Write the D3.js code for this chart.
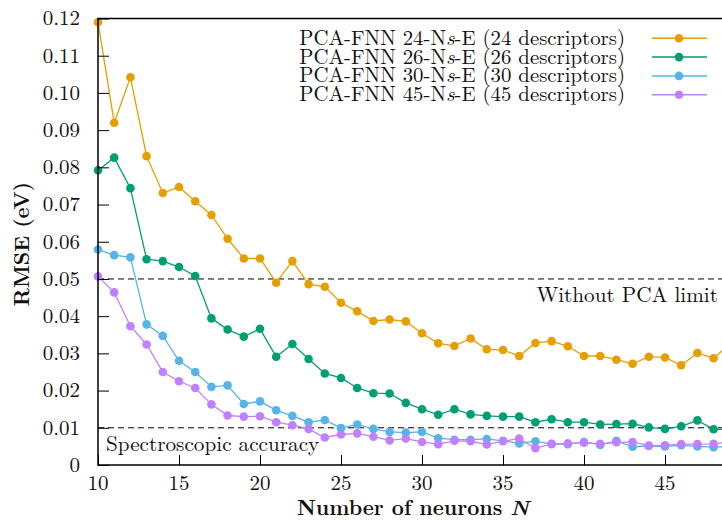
<!DOCTYPE html>
<html>
<head>
<meta charset="utf-8">
<script src="https://cdn.jsdelivr.net/npm/d3@7"></script>
<style>
  body { margin: 0; background: #fff; }
  svg { display: block; }
</style>
</head>
<body>
<svg id="chart" width="722" height="520"></svg>
<script>
'use strict'

// neurons on the x axis
const neurons = d3.range(10, 50) // 10 .. 49

// RMSE (eV) for each model
const rmse24 = [0.1190, 0.0920, 0.1042, 0.0830, 0.0731, 0.0747, 0.0709, 0.0672, 0.0608, 0.0555,
  0.0555, 0.0490, 0.0548, 0.0486, 0.0479, 0.0436, 0.0413, 0.0387, 0.0391, 0.0386,
  0.0354, 0.0327, 0.0320, 0.0340, 0.0311, 0.0309, 0.0293, 0.0328, 0.0333, 0.0319,
  0.0293, 0.0293, 0.0283, 0.0272, 0.0291, 0.0289, 0.0268, 0.0301, 0.0287, 0.0325]
const rmse26 = [0.0792, 0.0826, 0.0744, 0.0553, 0.0548, 0.0532, 0.0508, 0.0394, 0.0364, 0.0345,
  0.0366, 0.0291, 0.0325, 0.0285, 0.0246, 0.0234, 0.0207, 0.0193, 0.0192, 0.0167,
  0.0150, 0.0135, 0.0150, 0.0136, 0.0132, 0.0130, 0.0130, 0.0115, 0.0123, 0.0115,
  0.0115, 0.0109, 0.0110, 0.0111, 0.0101, 0.0097, 0.0104, 0.0120, 0.0096, 0.0095]
const rmse30 = [0.0579, 0.0564, 0.0558, 0.0378, 0.0347, 0.0280, 0.0250, 0.0210, 0.0214, 0.0164,
  0.0171, 0.0147, 0.0132, 0.0115, 0.0121, 0.0099, 0.0109, 0.0097, 0.0089, 0.0087,
  0.0089, 0.0072, 0.0068, 0.0068, 0.0070, 0.0065, 0.0058, 0.0064, 0.0056, 0.0056,
  0.0062, 0.0054, 0.0065, 0.0049, 0.0051, 0.0050, 0.0053, 0.0050, 0.0048, 0.0049]
const rmse45 = [0.0507, 0.0464, 0.0373, 0.0324, 0.0250, 0.0225, 0.0207, 0.0163, 0.0133, 0.0130,
  0.0131, 0.0115, 0.0107, 0.0097, 0.0074, 0.0082, 0.0085, 0.0076, 0.0066, 0.0071,
  0.0062, 0.0056, 0.0065, 0.0064, 0.0055, 0.0064, 0.0071, 0.0045, 0.0057, 0.0058,
  0.0060, 0.0057, 0.0061, 0.0062, 0.0052, 0.0053, 0.0056, 0.0056, 0.0057, 0.0062]

const seriesNames = ['24', '26', '30', '45']
const seriesColors = ['#e69f00', '#009e73', '#56b4e9', '#c080ff']
const seriesValues = [rmse24, rmse26, rmse30, rmse45]

const xTicks = [10, 15, 20, 25, 30, 35, 40, 45]
const yTicks = [0, 0.01, 0.02, 0.03, 0.04, 0.05, 0.06, 0.07, 0.08, 0.09, 0.10, 0.11, 0.12]
const yTickLabels = ['0', '0.01', '0.02', '0.03', '0.04', '0.05', '0.06', '0.07', '0.08', '0.09', '0.10', '0.11', '0.12']

const withoutPCA = 0.05 // dashed limit
const spectroscopic = 0.01 // dashed accuracy line

// layout
const plotLeft = 98
const plotTop = 18.5
const plotBottom = 465
const plotRight = 746 // plot runs past the window edge, like the original crop

const FONT = "'Latin Modern Roman', 'Liberation Serif', serif"

const svg = d3.select('#chart')

const x = d3.scaleLinear().domain([10, 50]).range([plotLeft, plotRight])
const y = d3.scaleLinear().domain([0, 0.12]).range([plotBottom, plotTop])

function label(px, py, size, anchor) {
  return svg.append('text')
    .attr('x', px).attr('y', py)
    .attr('text-anchor', anchor)
    .attr('font-size', size)
    .attr('fill', '#111')
    .style('font-family', FONT)
}

// dashed reference lines
const refs = [
  { v: withoutPCA, label: 'Without PCA limit' },
  { v: spectroscopic, label: 'Spectroscopic accuracy' }
]
svg.selectAll('line.ref')
  .data(refs)
  .enter().append('line')
  .attr('class', 'ref')
  .attr('x1', plotLeft).attr('x2', plotRight)
  .attr('y1', d => y(d.v)).attr('y2', d => y(d.v))
  .attr('stroke', '#000')
  .attr('stroke-width', 1)
  .attr('stroke-dasharray', '6,4')

label(718, y(withoutPCA) + 23, 21.2, 'end').text(refs[0].label)
label(106, y(spectroscopic) + 23, 21.2, 'start').text(refs[1].label)

// series
const line = d3.line()
  .x((d, i) => x(neurons[i]))
  .y(d => y(d))

seriesValues.forEach((vals, s) => {
  svg.append('path')
    .datum(vals)
    .attr('d', line)
    .attr('fill', 'none')
    .attr('stroke', seriesColors[s])
    .attr('stroke-width', 1.3)
  svg.append('g')
    .selectAll('circle')
    .data(vals)
    .enter().append('circle')
    .attr('cx', (d, i) => x(neurons[i]))
    .attr('cy', d => y(d))
    .attr('r', 4.3)
    .attr('fill', seriesColors[s])
})

// axes (ticks inward)
const xAxis = d3.axisTop(x).tickValues(xTicks).tickSize(10).tickFormat('')
svg.append('g')
  .attr('transform', 'translate(0,' + plotBottom + ')')
  .call(xAxis)
  .call(g => g.select('.domain').remove())
  .call(g => g.selectAll('line').attr('stroke', '#000').attr('stroke-width', 1))

xTicks.forEach(t => {
  label(x(t), plotBottom + 25, 21, 'middle').text(t)
})

const yAxis = d3.axisRight(y).tickValues(yTicks).tickSize(11).tickFormat('')
svg.append('g')
  .attr('transform', 'translate(' + plotLeft + ',0)')
  .call(yAxis)
  .call(g => g.select('.domain').remove())
  .call(g => g.selectAll('line').attr('stroke', '#000').attr('stroke-width', 1))

yTicks.forEach((t, i) => {
  label(80, y(t) + 6.8, 21, 'end').text(yTickLabels[i])
})

// border: left, bottom, top
svg.append('path')
  .attr('d', 'M' + plotRight + ',' + plotTop + 'H' + plotLeft + 'V' + plotBottom + 'H' + plotRight)
  .attr('fill', 'none')
  .attr('stroke', '#000')
  .attr('stroke-width', 1.5)

// axis titles
label(0, 0, 21, 'middle')
  .attr('transform', 'translate(28.5,244) rotate(-90)')
  .attr('font-weight', 'bold')
  .text('RMSE (eV)')

const xt = label(413, 514.5, 21, 'middle').attr('font-weight', 'bold')
xt.append('tspan').text('Number of neurons ')
xt.append('tspan').attr('font-style', 'italic').text('N')

// legend
seriesNames.forEach((n, s) => {
  const ly = 38.3 + s * 18.8
  const t = label(625, ly + 6.5, 20.8, 'end')
  t.append('tspan').text('PCA-FNN ' + n + '-N')
  t.append('tspan').attr('font-style', 'italic').text('s')
  t.append('tspan').text('-E (' + n + ' descriptors)')
  svg.append('line')
    .attr('x1', 652).attr('x2', 707)
    .attr('y1', ly).attr('y2', ly)
    .attr('stroke', seriesColors[s])
    .attr('stroke-width', 1.5)
  svg.append('circle')
    .attr('cx', 679).attr('cy', ly)
    .attr('r', 4.3)
    .attr('fill', seriesColors[s])
})
</script>
</body>
</html>
